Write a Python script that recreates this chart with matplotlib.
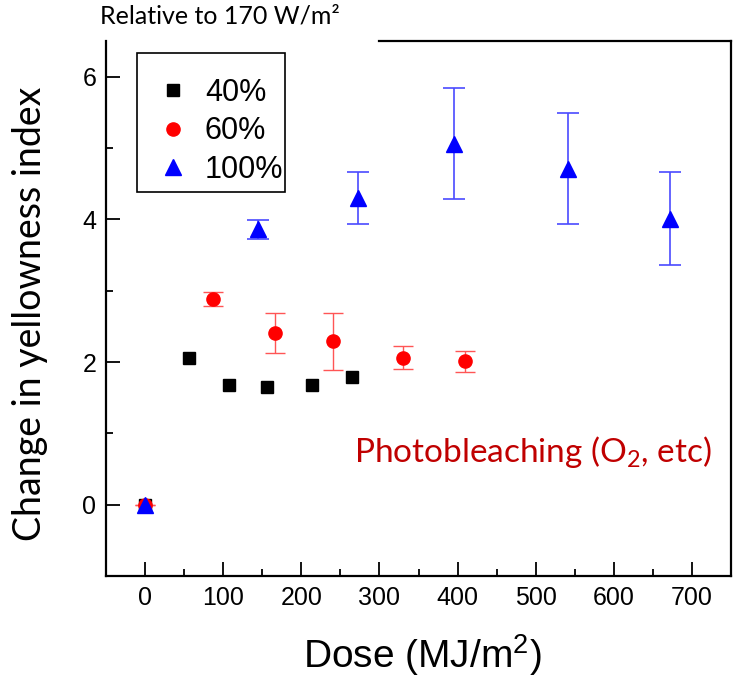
import numpy as np
import matplotlib
matplotlib.use("Agg")
from matplotlib import pyplot as plt
from matplotlib.patches import Rectangle
from matplotlib.ticker import MultipleLocator

# dose (MJ/m2) and change in yellowness index for each irradiance level
dose_40 = [0, 56, 108, 156, 214, 265]
yi_40 = [0.0, 2.05, 1.68, 1.65, 1.68, 1.79]
err_40 = [0.0, 0.0, 0.06, 0.06, 0.0, 0.0]

dose_60 = [0, 87, 166, 241, 330, 409]
yi_60 = [0.0, 2.88, 2.41, 2.29, 2.06, 2.01]
err_60 = [0.0, 0.10, 0.28, 0.40, 0.16, 0.15]

dose_100 = [0, 144, 272, 396, 541, 672]
yi_100 = [0.0, 3.86, 4.30, 5.06, 4.71, 4.01]
err_100 = [0.04, 0.13, 0.37, 0.78, 0.78, 0.65]

labels = ["40%", "60%", "100%"]

W, H = 734, 684
fig = plt.figure(figsize=(W / 100, H / 100), dpi=100)
ax = fig.add_axes([106 / W, 1 - 576 / H, 625 / W, 535 / H])

ax.errorbar(dose_40, yi_40, yerr=err_40, fmt="none", ecolor="#777777", elinewidth=1, capsize=0)
ax.errorbar(dose_60, yi_60, yerr=err_60, fmt="none", ecolor="#ff5555", elinewidth=1, capsize=7, capthick=1)
ax.errorbar(dose_100[1:], yi_100[1:], yerr=err_100[1:], fmt="none", ecolor="#4a4aff",
            elinewidth=1.2, capsize=8, capthick=1.2)
ax.errorbar(dose_100[:1], yi_100[:1], yerr=err_100[:1], fmt="none", ecolor="#4a4aff",
            elinewidth=1.2, capsize=0)

ax.plot(dose_40, yi_40, "s", color="black", markersize=8, label=labels[0], zorder=3)
ax.plot(dose_60, yi_60, "o", color="red", markersize=9.5, label=labels[1], zorder=3)
ax.plot(dose_100, yi_100, "^", color="blue", markersize=11.5, label=labels[2], zorder=3)

ax.set_xlim(-50, 750)
ax.set_ylim(-1, 6.5)
ax.xaxis.set_major_locator(MultipleLocator(100))
ax.xaxis.set_minor_locator(MultipleLocator(50))
ax.yaxis.set_major_locator(MultipleLocator(2))
ax.yaxis.set_minor_locator(MultipleLocator(1))
ax.set_xticks(np.arange(0, 701, 100))

ax.tick_params(which="both", direction="in", top=False, right=False, width=1.3)
ax.tick_params(which="major", length=10, labelsize=18, pad=7)
ax.tick_params(which="minor", length=5)
for lab in ax.get_xticklabels() + ax.get_yticklabels():
    lab.set_family("Liberation Sans")

for side in ["left", "bottom", "right", "top"]:
    ax.spines[side].set_linewidth(1.6)
# top border is hidden behind the "Relative to" note on the left
ax.spines["top"].set_bounds(299, 750)

ax.set_xlabel("Dose (MJ/m$^\\mathregular{2}$)", family="Liberation Sans", fontsize=28)
ax.xaxis.set_label_coords(0.506, -0.105)
ax.set_ylabel("Change in yellowness index", family="Lato", fontsize=27)
ax.yaxis.set_label_coords(-0.092, 0.49)

# legend entries without frame, the box is drawn separately (tighter on the right)
leg = ax.legend(loc="upper left", bbox_to_anchor=((155 - 106) / 625, (576 - 78) / 535),
                prop={"family": "Liberation Sans", "size": 22},
                frameon=False, handlelength=1.2, handletextpad=0.43,
                labelspacing=0.27, borderpad=0, borderaxespad=0)
fig.add_artist(Rectangle((137 / W, 1 - 192 / H), 148 / W, 139 / H, transform=fig.transFigure,
                         facecolor="none", edgecolor="black", linewidth=1.2))

ax.text(268, 0.6, "Photobleaching (O$_\\mathregular{2}$, etc)", color="#c00000",
        family="Lato", fontsize=24)

fig.text(100 / W, 1 - 5 / H, "Relative to 170 W/m²", family="Lato",
         fontsize=18, va="top", ha="left")

plt.savefig("out.png", dpi=100)
plt.close()
